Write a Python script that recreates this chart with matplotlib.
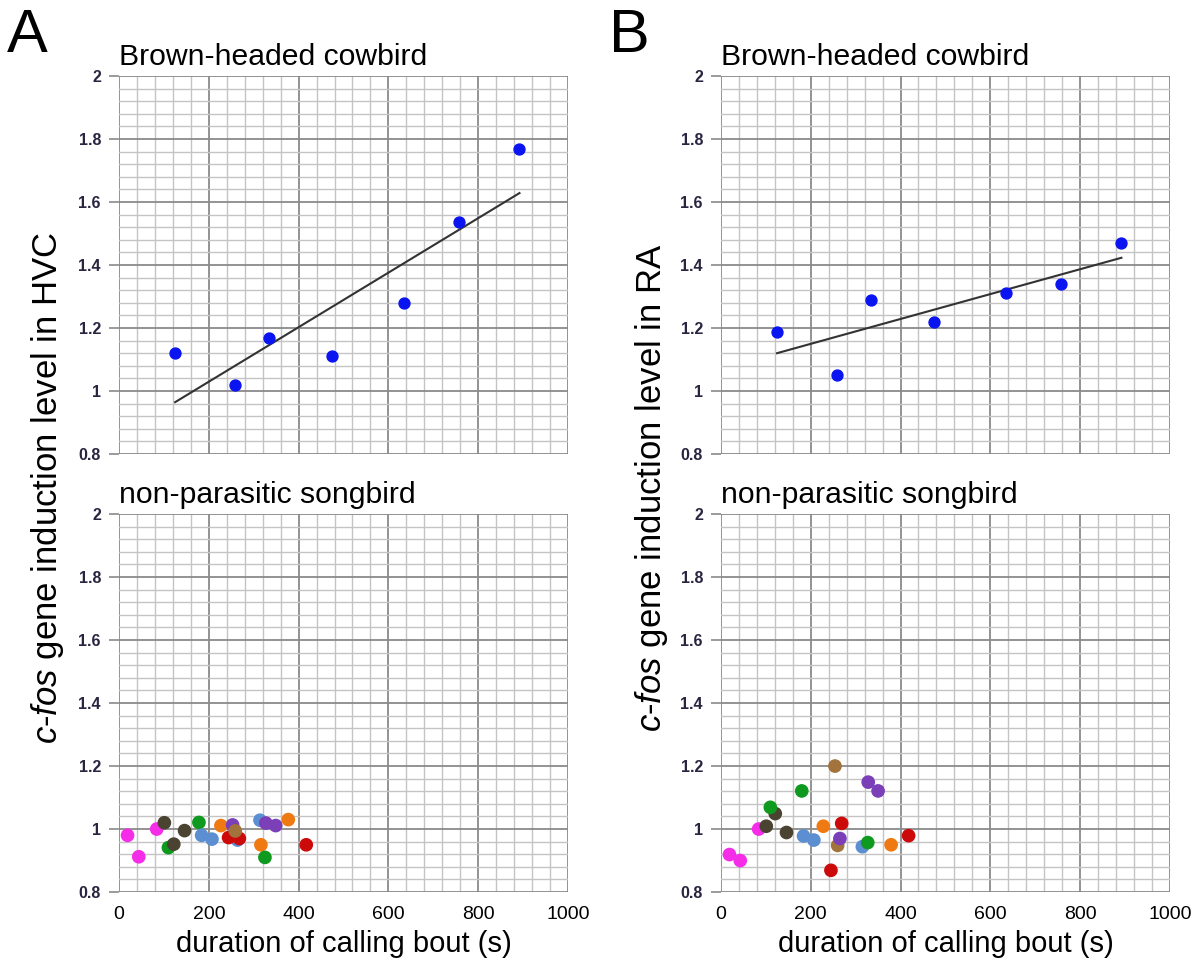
import numpy as np
import matplotlib
matplotlib.use("Agg")
import matplotlib.pyplot as plt
from matplotlib.ticker import MultipleLocator, FuncFormatter

plt.rcParams['font.family'] = ['Liberation Sans', 'DejaVu Sans']
plt.rcParams['mathtext.fontset'] = 'custom'
plt.rcParams['mathtext.rm'] = 'Liberation Sans'
plt.rcParams['mathtext.it'] = 'Liberation Sans:italic'

# ----- data -----
# cowbird: one point per bird, same birds in HVC and RA
cowbird_x = [125, 258, 334, 474, 634, 758, 892]
cowbird_hvc = [1.121, 1.019, 1.168, 1.112, 1.280, 1.536, 1.767]
cowbird_ra = [1.189, 1.050, 1.289, 1.218, 1.312, 1.340, 1.470]

# non-parasitic songbirds, coloured by species
song_colors = {
    "magenta": "#f52ce8",
    "olive": "#4b4332",
    "green": "#0e9a1e",
    "blue": "#5b8fd2",
    "orange": "#f07a12",
    "purple": "#7b3fb8",
    "brown": "#a3733c",
    "red": "#cc0a0a",
}

hvc_species = ["magenta", "magenta", "magenta", "olive", "green", "olive", "olive",
               "green", "blue", "blue", "orange", "blue", "red", "red", "purple",
               "brown", "blue", "purple", "purple", "orange", "orange", "green", "red"]
hvc_x = [19, 44, 84, 101, 110, 122, 146,
         178, 184, 207, 227, 264, 244, 268, 253,
         259, 314, 327, 349, 377, 316, 325, 417]
hvc_y = [0.980, 0.912, 1.000, 1.020, 0.941, 0.952, 0.995,
         1.021, 0.980, 0.968, 1.011, 0.965, 0.973, 0.970, 1.013,
         0.994, 1.028, 1.019, 1.011, 1.030, 0.950, 0.910, 0.950]

ra_species = ["magenta", "magenta", "magenta", "olive", "olive", "green", "olive",
              "green", "blue", "blue", "orange", "brown", "red", "red", "brown",
              "purple", "blue", "green", "purple", "purple", "orange", "red"]
ra_x = [19, 43, 84, 101, 121, 110, 146,
        180, 184, 207, 228, 254, 245, 269, 260,
        265, 315, 327, 328, 350, 379, 418]
ra_y = [0.919, 0.900, 1.000, 1.009, 1.049, 1.069, 0.989,
        1.121, 0.978, 0.965, 1.009, 1.200, 0.869, 1.018, 0.948,
        0.970, 0.944, 0.957, 1.149, 1.121, 0.950, 0.979]

titles = ["Brown-headed cowbird", "non-parasitic songbird"]
ylabels = [r"$\mathit{c}$-$\mathit{fos}$ gene induction level in HVC",
           r"$\mathit{c}$-$\mathit{fos}$ gene induction level in RA"]
xlabel = "duration of calling bout (s)"

# ----- figure -----
fig = plt.figure(figsize=(11.95, 9.65), dpi=100)

col_left = [0.0996, 0.6033]
row_bottom = [0.5295, 0.0756]
w, h = 0.3757, 0.3917


def style_axes(ax, last_row):
    ax.set_xlim(0, 1000)
    ax.set_ylim(0.8, 2.0)
    ax.xaxis.set_major_locator(MultipleLocator(200))
    ax.xaxis.set_minor_locator(MultipleLocator(40))
    ax.yaxis.set_major_locator(MultipleLocator(0.2))
    ax.yaxis.set_minor_locator(MultipleLocator(0.04))
    ax.grid(which="minor", color="#c4c4c4", linewidth=1.0)
    ax.grid(which="major", color="#8a8a8a", linewidth=1.3)
    ax.set_axisbelow(True)
    for s in ax.spines.values():
        s.set_visible(False)
    ax.yaxis.set_major_formatter(FuncFormatter(lambda v, p: f"{v:g}"))
    ax.tick_params(axis="y", which="major", length=7, width=1.2, color="#8a8a8a",
                   labelsize=11.5, labelcolor="#2a2440", pad=6)
    ax.tick_params(axis="y", which="minor", length=0)
    ax.tick_params(axis="x", which="both", length=0)
    if last_row:
        ax.tick_params(axis="x", labelsize=14, pad=10)
        ax.set_xlabel(xlabel, fontsize=21, labelpad=5)
    else:
        ax.tick_params(axis="x", labelbottom=False)


for col in range(2):
    top = fig.add_axes([col_left[col], row_bottom[0], w, h])
    bot = fig.add_axes([col_left[col], row_bottom[1], w, h])
    style_axes(top, False)
    style_axes(bot, True)
    top.set_title(titles[0], loc="left", fontsize=21.7, pad=8)
    bot.set_title(titles[1], loc="left", fontsize=21.7, pad=8)

    cy = cowbird_hvc if col == 0 else cowbird_ra
    slope, icpt = np.polyfit(cowbird_x, cy, 1)
    xs = np.array([min(cowbird_x), max(cowbird_x)])
    top.plot(xs, slope * xs + icpt, color="#333333", linewidth=1.5, zorder=3)
    top.scatter(cowbird_x, cy, s=62, color="#0a14f0", zorder=4)

    sp, sx, sy = (hvc_species, hvc_x, hvc_y) if col == 0 else (ra_species, ra_x, ra_y)
    bot.scatter(sx, sy, s=78, c=[song_colors[k] for k in sp], zorder=4)

    for t in top.get_yticklabels() + bot.get_yticklabels():
        t.set_fontweight("bold")

fig.text(0.040, 0.495, ylabels[0], rotation=90, ha="center", va="center", fontsize=25)
fig.text(0.545, 0.495, ylabels[1], rotation=90, ha="center", va="center", fontsize=25)

fig.text(0.006, 0.992, "A", fontsize=44, ha="left", va="top")
fig.text(0.510, 0.992, "B", fontsize=44, ha="left", va="top")

plt.savefig("out.png", dpi=100)
